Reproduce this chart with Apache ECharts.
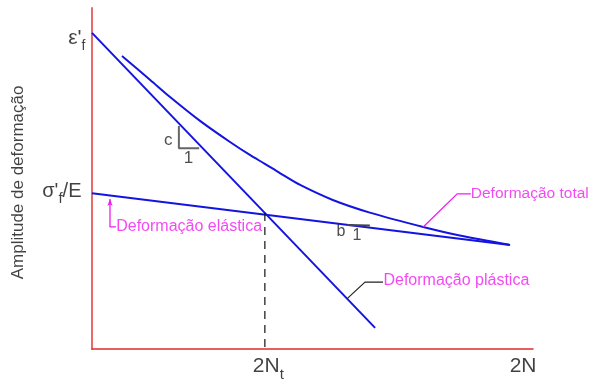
<!DOCTYPE html>
<html>
<head>
<meta charset="utf-8">
<script src="https://cdn.jsdelivr.net/npm/echarts@6/dist/echarts.min.js"></script>
<style>
  html, body { margin: 0; padding: 0; background: #fff; }
  #chart { width: 591px; height: 381px; }
</style>
</head>
<body>
<div id="chart"></div>
<script>
// Strain–life diagram (log–log, arbitrary units 0–100 on both axes)
const FONT = '"Liberation Sans", Arial, sans-serif';

// Elastic component: from σ'f/E at the axis, slope b
const elasticLine = [[0, 45.7], [94.8, 30.5]];
// Plastic component: from ε'f at the axis, slope c
const plasticLine = [[0, 92.7], [64.2, 6.2]];
// Total strain amplitude
const totalX = [6.8, 13.2, 17.7, 24.5, 31.3, 35.8, 39.2, 42.6, 47.2, 54.6, 63.0, 75.1, 83.4, 94.6];
const totalY = [85.9, 78.9, 73.9, 66.9, 60.7, 56.9, 54.3, 51.6, 48.1, 43.7, 40.0, 35.8, 33.3, 30.6];
// Transition life 2Nt (where the two components cross)
const transition = [39.2, 39.9];

// Slope triangles
const slopeC = [[19.7, 65.4], [19.7, 58.9], [24.3, 58.9]];
const slopeB = [[57.8, 36.4], [63.0, 36.2]];

// Callout leaders
const leaderElastic = [[4.08, 44.0], [4.08, 35.8], [5.44, 35.8]];
const leaderTotal = [[75.1, 35.8], [82.8, 45.5], [85.9, 45.5]];
const leaderPlastic = [[57.8, 14.7], [61.9, 19.6], [66.0, 19.6]];

// Callout texts
const calloutNames = ['Deformação elástica', 'Deformação total', 'Deformação plástica'];
const calloutPos = [[5.6, 35.8], [86.0, 45.5], [66.2, 19.9]];

const yTitle = 'Amplitude de deformação';
const yTitlePos = [-16.6, 48.7];

const chart = echarts.init(document.getElementById('chart'), null, { renderer: 'canvas' });

const BLUE = '#1414e0';
const MAGENTA = '#f01cf0';

const totalCurve = totalX.map((x, i) => [x, totalY[i]]);

function lineSeries(data, color, width, extra) {
  return Object.assign({
    type: 'line',
    data: data,
    symbol: 'none',
    silent: true,
    animation: false,
    clip: false,
    lineStyle: { color: color, width: width }
  }, extra || {});
}

// A text anchored at a data point; shift = pixel nudge from that point
function textPoint(value, shift, label) {
  return {
    value: value,
    label: Object.assign({
      show: true,
      position: shift,
      fontFamily: FONT
    }, label)
  };
}

const subRich = {
  m: { fontSize: 21, lineHeight: 24, verticalAlign: 'top', color: '#111', fontFamily: FONT },
  s: { fontSize: 14, lineHeight: 14, verticalAlign: 'top', padding: [12, 0, 0, 0], color: '#111', fontFamily: FONT },
  ms: { fontSize: 20, lineHeight: 24, verticalAlign: 'top', color: '#111', fontFamily: FONT },
  ss: { fontSize: 15, lineHeight: 15, verticalAlign: 'top', padding: [10, 0, 0, 0], color: '#111', fontFamily: FONT },
  m2: { fontSize: 21, lineHeight: 24, verticalAlign: 'top', color: '#111', fontFamily: FONT },
  s2: { fontSize: 15, lineHeight: 15, verticalAlign: 'top', padding: [12, 0, 0, 0], color: '#111', fontFamily: FONT }
};

const labelsData = [
  textPoint([0, plasticLine[0][1]], [-6, 7], { formatter: "{m|ε'}{s|f}", rich: subRich, align: 'right', verticalAlign: 'middle' }),
  textPoint([0, elasticLine[0][1]], [-10, 1], { formatter: "{ms|σ'}{ss|f}{ms|/E}", rich: subRich, align: 'right', verticalAlign: 'middle' }),
  textPoint([transition[0], 0], [4, 7], { formatter: '{m2|2N}{s2|t}', rich: subRich, align: 'center', verticalAlign: 'top' }),
  textPoint([100, 0], [4, 7], { formatter: '{m2|2N}', rich: subRich, align: 'right', verticalAlign: 'top' }),
  textPoint(calloutPos[0], [0, 0], { formatter: calloutNames[0], color: MAGENTA, fontSize: 16, align: 'left', verticalAlign: 'middle' }),
  textPoint(calloutPos[1], [0, 0], { formatter: calloutNames[1], color: MAGENTA, fontSize: 15.5, align: 'left', verticalAlign: 'middle' }),
  textPoint(calloutPos[2], [0, 0], { formatter: calloutNames[2], color: MAGENTA, fontSize: 16, align: 'left', verticalAlign: 'middle' }),
  textPoint([slopeC[0][0], (slopeC[0][1] + slopeC[1][1]) / 2], [-6, 4], { formatter: 'c', color: '#222', fontSize: 17, align: 'right', verticalAlign: 'middle' }),
  textPoint([(slopeC[1][0] + slopeC[2][0]) / 2, slopeC[1][1]], [0, 2], { formatter: '1', color: '#222', fontSize: 17, align: 'center', verticalAlign: 'top' }),
  textPoint([slopeB[0][0], slopeB[0][1]], [-1, 7], { formatter: 'b', color: '#222', fontSize: 16, align: 'right', verticalAlign: 'middle' }),
  textPoint([(slopeB[0][0] + slopeB[1][0]) / 2, slopeB[1][1]], [-1, 3], { formatter: '1', color: '#222', fontSize: 16, align: 'center', verticalAlign: 'top' }),
  textPoint(yTitlePos, [0, 0], { formatter: yTitle, color: '#111', fontSize: 17, rotate: 90, align: 'center', verticalAlign: 'middle' })
];

const option = {
  backgroundColor: '#ffffff',
  animation: false,
  grid: { left: 92, right: 58, top: 8, bottom: 32 },
  xAxis: {
    type: 'value', min: 0, max: 100,
    axisLine: { show: true, lineStyle: { color: '#e42a2a', width: 1.5 } },
    axisTick: { show: false }, axisLabel: { show: false }, splitLine: { show: false }
  },
  yAxis: {
    type: 'value', min: 0, max: 100,
    axisLine: { show: true, lineStyle: { color: '#ea6a6a', width: 2 } },
    axisTick: { show: false }, axisLabel: { show: false }, splitLine: { show: false }
  },
  series: [
    lineSeries(elasticLine, BLUE, 2),
    lineSeries(plasticLine, BLUE, 2),
    lineSeries(totalCurve, BLUE, 2, { smooth: 0.3 }),
    lineSeries([[transition[0], transition[1]], [transition[0], 0]], '#111', 1.2, { lineStyle: { color: '#111', width: 1.2, type: [8, 6] } }),
    lineSeries(slopeC, '#666', 2),
    lineSeries(slopeB, '#444', 2),
    lineSeries([
      { value: leaderElastic[0], symbol: 'arrow', symbolSize: [4, 7], itemStyle: { color: MAGENTA } },
      leaderElastic[1], leaderElastic[2]
    ], MAGENTA, 1.3, { showSymbol: true, showAllSymbol: true }),
    lineSeries(leaderTotal, MAGENTA, 1.3),
    lineSeries(leaderPlastic, '#222', 1.2),
    {
      type: 'scatter',
      data: labelsData,
      symbol: 'circle',
      symbolSize: 1,
      silent: true,
      animation: false,
      clip: false,
      itemStyle: { color: 'rgba(0,0,0,0)' },
      labelLayout: { hideOverlap: false }
    }
  ]
};

chart.setOption(option);
</script>
</body>
</html>
